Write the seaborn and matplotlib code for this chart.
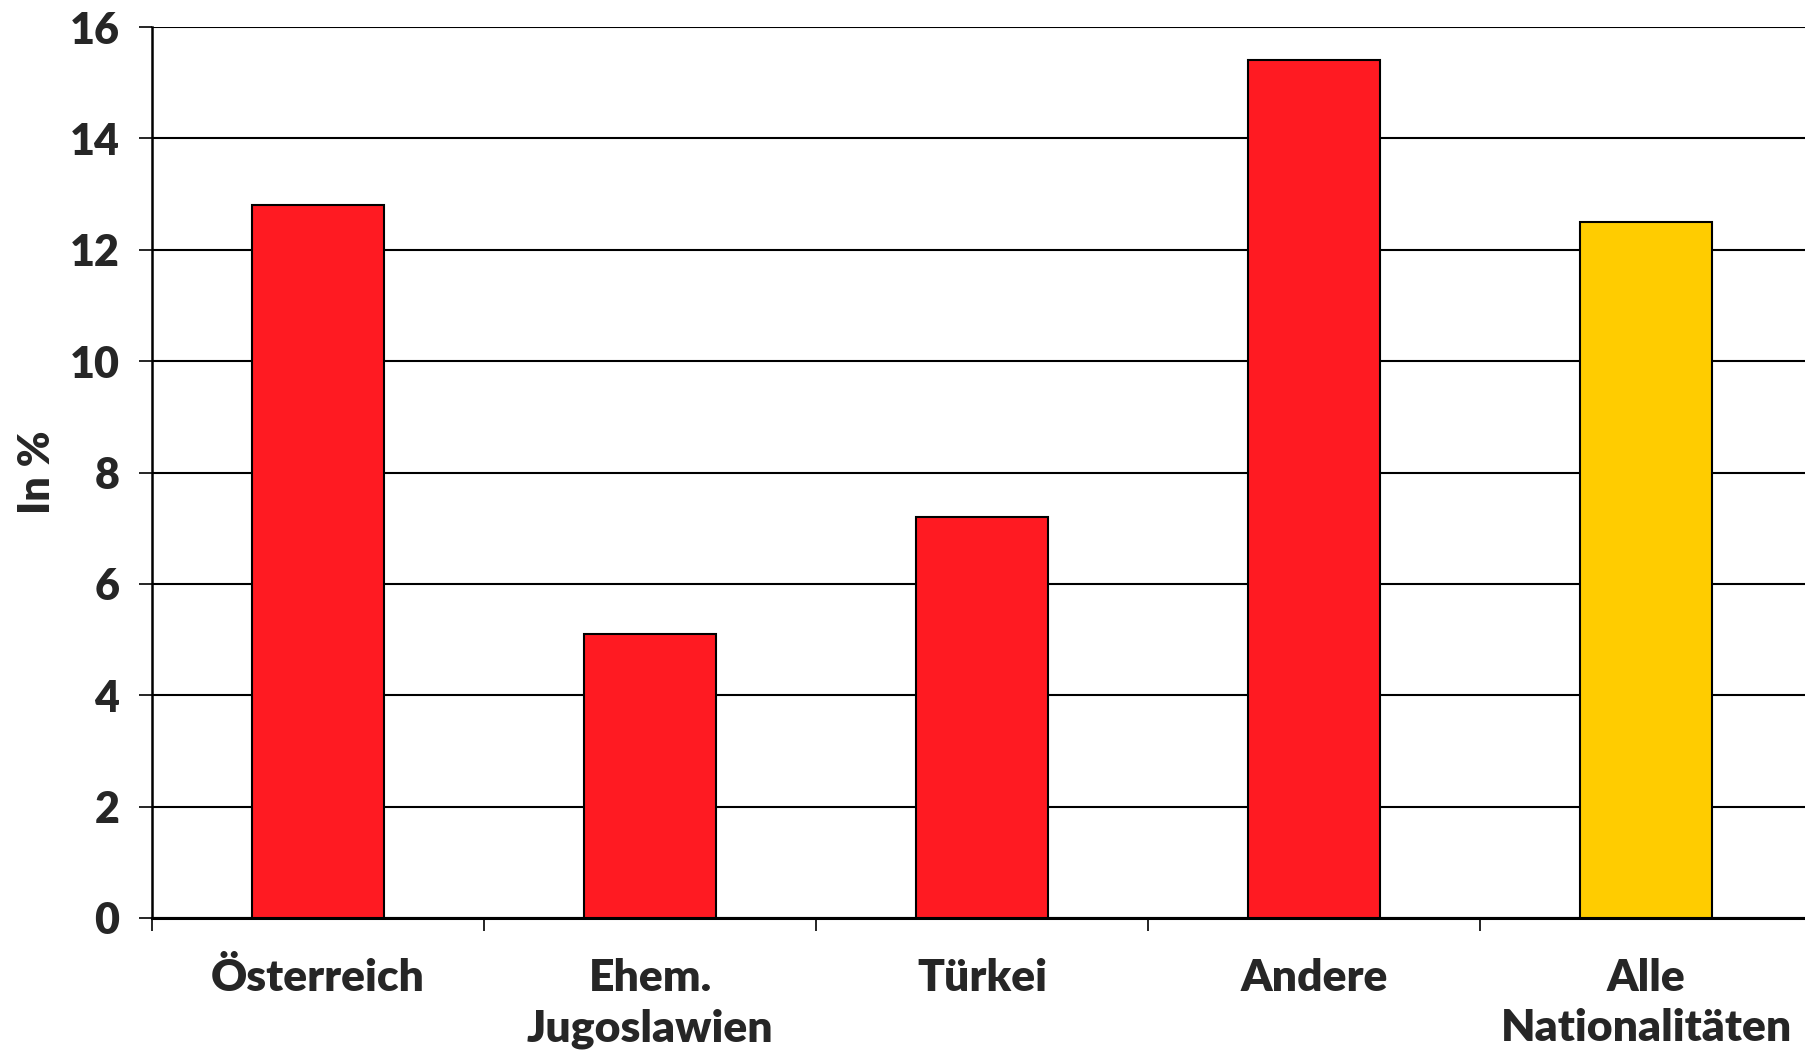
import matplotlib
matplotlib.use("Agg")
import matplotlib.pyplot as plt
import seaborn as sns
import pandas as pd

# values (in %)
categories = ["Österreich", "Ehem.\nJugoslawien", "Türkei", "Andere", "Alle\nNationalitäten"]
values = [12.8, 5.1, 7.2, 15.4, 12.5]
bar_colors = ["#FF1A22", "#FF1A22", "#FF1A22", "#FF1A22", "#FFCC00"]
y_ticks = [0, 2, 4, 6, 8, 10, 12, 14, 16]

df = pd.DataFrame({"cat": categories, "val": values})

sns.set_style("white")
plt.rcParams["font.family"] = ["Lato", "DejaVu Sans"]

fig = plt.figure(figsize=(18.05, 10.5), dpi=100)
ax = fig.add_axes([152 / 1805, 132 / 1050, 1660 / 1805, 891 / 1050])

sns.barplot(data=df, x="cat", y="val", hue="cat", palette=bar_colors,
            legend=False, width=0.4, edgecolor="black", linewidth=1.5,
            saturation=1, ax=ax, zorder=3)

ax.set_ylim(0, 16)
ax.set_xlim(-0.5, 4.5)
ax.set_yticks(y_ticks)
ax.set_yticklabels([str(t) for t in y_ticks], fontsize=31, fontweight="heavy")
ax.yaxis.grid(True, color="black", linewidth=1.5, zorder=0)
ax.set_axisbelow(True)

# category labels on minor ticks, tick marks between categories
ax.set_xticks([-0.5, 0.5, 1.5, 2.5, 3.5, 4.5])
ax.set_xticklabels([])
ax.set_xticks(range(len(categories)), minor=True)
ax.set_xticklabels(categories, minor=True, fontsize=32, fontweight="heavy",
                   linespacing=1.3)
ax.tick_params(axis="x", which="major", direction="out", length=9.5,
               width=1.2, color="black", bottom=True)
ax.tick_params(axis="x", which="minor", length=0, pad=29)
ax.tick_params(axis="y", direction="out", length=9.5, width=1.2,
               color="black", left=True, pad=14)

for side in ["top", "right"]:
    ax.spines[side].set_visible(False)
ax.spines["left"].set_color("black")
ax.spines["left"].set_linewidth(1.8)
ax.spines["bottom"].set_color("black")
ax.spines["bottom"].set_linewidth(2.2)

ax.set_xlabel("")
ax.set_ylabel("In %", fontsize=31, fontweight="heavy")
ax.yaxis.set_label_coords(-0.057, 0.5)

fig.savefig("out.png", dpi=100)
